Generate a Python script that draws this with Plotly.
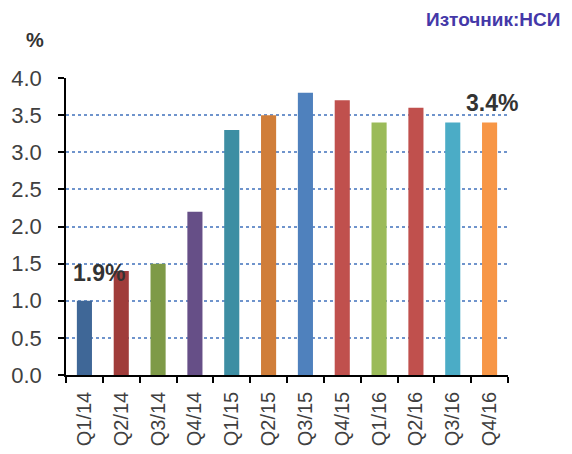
import plotly.graph_objects as go

categories = ["Q1/14", "Q2/14", "Q3/14", "Q4/14", "Q1/15", "Q2/15",
              "Q3/15", "Q4/15", "Q1/16", "Q2/16", "Q3/16", "Q4/16"]
values = [1.0, 1.4, 1.5, 2.2, 3.3, 3.5, 3.8, 3.7, 3.4, 3.6, 3.4, 3.4]
colors = ["#3F6797", "#A03C3A", "#7E9A47", "#664F87", "#3D8EA3", "#D07E3A",
          "#4F81BD", "#C0504D", "#9BBB59", "#C0504D", "#4BACC6", "#F79646"]
y_ticks = [0.0, 0.5, 1.0, 1.5, 2.0, 2.5, 3.0, 3.5, 4.0]

FONT = "Liberation Sans, Arial, sans-serif"

fig = go.Figure()
fig.add_trace(go.Bar(x=categories, y=values, marker=dict(color=colors, line=dict(width=0)),
                     width=0.41, showlegend=False))

fig.update_layout(
    width=556, height=446,
    margin=dict(l=58, r=56, t=70, b=79),
    paper_bgcolor="white", plot_bgcolor="white",
    font=dict(family=FONT, color="#404040"),
)
fig.update_yaxes(
    range=[0, 4.0], tickvals=y_ticks, ticktext=[f"{v:.1f}" for v in y_ticks],
    showgrid=True, gridcolor="#6F94CC", griddash="dot", gridwidth=1.5,
    showline=True, linecolor="black", linewidth=1.5,
    ticks="outside", ticklen=6, tickcolor="black", tickwidth=1.5,
    tickfont=dict(size=22, color="#404040"), zeroline=False, automargin=False,
    ticklabelstandoff=12,
)
fig.update_xaxes(
    range=[-0.5, 11.5],
    showline=True, linecolor="black", linewidth=1.5,
    ticks="outside", tickson="boundaries", ticklen=6, tickcolor="black", tickwidth=1.5,
    tickangle=-90, tickfont=dict(size=20, color="#404040"), showgrid=False,
    automargin=False, ticklabelstandoff=7,
)
fig.add_annotation(text="<b>%</b>", xref="paper", yref="paper", x=-0.07, y=1.128,
                   xanchor="center", yanchor="middle", showarrow=False,
                   font=dict(size=20, color="#333333", family=FONT))
fig.add_annotation(text="<b>Източник:НСИ</b>", xref="paper", yref="paper", x=1.122, y=1.197,
                   xanchor="right", yanchor="middle", showarrow=False,
                   font=dict(size=19, color="#4438A8", family=FONT))
fig.add_annotation(text="<b>1.9%</b>", x=categories[0], y=1.37, xanchor="center", yanchor="middle",
                   xshift=15, showarrow=False, font=dict(size=23, color="#333333", family=FONT))
fig.add_annotation(text="<b>3.4%</b>", x=categories[-1], y=3.66, xanchor="center", yanchor="middle",
                   xshift=2, showarrow=False, font=dict(size=23, color="#333333", family=FONT))

fig.write_html("out.html")
